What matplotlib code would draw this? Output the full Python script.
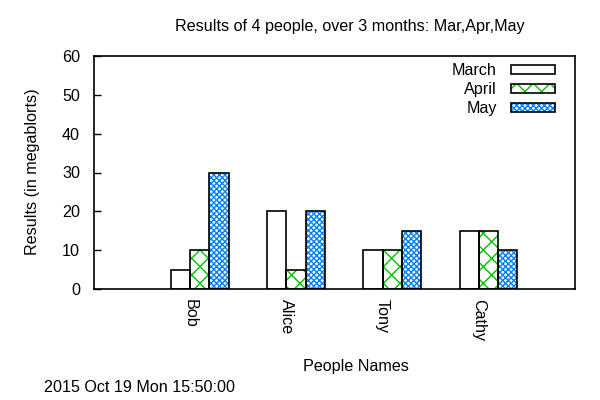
import matplotlib
matplotlib.use("Agg")
import matplotlib.pyplot as plt
import numpy as np

people = ["Bob", "Alice", "Tony", "Cathy"]
months = ["March", "April", "May"]
march = [5, 20, 10, 15]
april = [10, 5, 10, 15]
may = [30, 20, 15, 10]

plt.rcParams['font.family'] = ['Liberation Sans', 'DejaVu Sans']
plt.rcParams['hatch.linewidth'] = 1.0
FS = 11.6

fig = plt.figure(figsize=(6, 4), dpi=100)
ax = fig.add_axes([94/600, 1-289/400, (575-94)/600, (289-56)/400])

x = np.arange(len(people))
series = [march, april, may]
offsets = [-0.1, 0.1, 0.3]
hatches = [None, 'xx', 'xxxxxx']
hcolors = ['black', '#00c000', '#0080ff']
width = 0.2
handles = []
for vals, off, h, hc, name in zip(series, offsets, hatches, hcolors, months):
    if h is not None:
        ax.bar(x + off, vals, width, facecolor='white', edgecolor=hc, hatch=h, linewidth=0, zorder=2)
    ax.bar(x + off, vals, width, fill=False, edgecolor='black', linewidth=1.2, zorder=3)
    p1 = plt.Rectangle((0, 0), 1, 1, facecolor='white', edgecolor=hc, hatch=h, linewidth=0)
    p2 = plt.Rectangle((0, 0), 1, 1, fill=False, edgecolor='black', linewidth=1.2)
    handles.append((p1, p2))

ax.set_xlim(-1, 4)
ax.set_ylim(0, 60)
ax.set_yticks(range(0, 61, 10))
ax.set_xticks(x)
ax.set_xticklabels(people, rotation=270, fontsize=FS, va='top', ha='center')
ax.tick_params(axis='x', length=0, pad=7)
ax.tick_params(axis='y', direction='in', length=5, width=1, labelsize=FS, pad=10)
for s in ax.spines.values():
    s.set_linewidth(1.2)

ax.legend(handles, months, loc='upper right', bbox_to_anchor=(1 - 9/481, 1 + 4/233),
          frameon=False, markerfirst=False, fontsize=FS, handlelength=2.7,
          handleheight=0.5, handletextpad=0.9, labelspacing=0.25, borderpad=0.2)

fig.text(350/600, 1-27/400, "Results of 4 people, over 3 months: Mar,Apr,May",
         ha='center', va='center', fontsize=FS)
fig.text(33/600, 1-172/400, "Results (in megablorts)", rotation=90,
         ha='center', va='center', fontsize=FS)
fig.text(356/600, 1-367/400, "People Names", ha='center', va='center', fontsize=FS)
fig.text(44/600, 1-387/400, "2015 Oct 19 Mon 15:50:00", ha='left', va='center', fontsize=FS)

fig.savefig("out.png", dpi=100)
